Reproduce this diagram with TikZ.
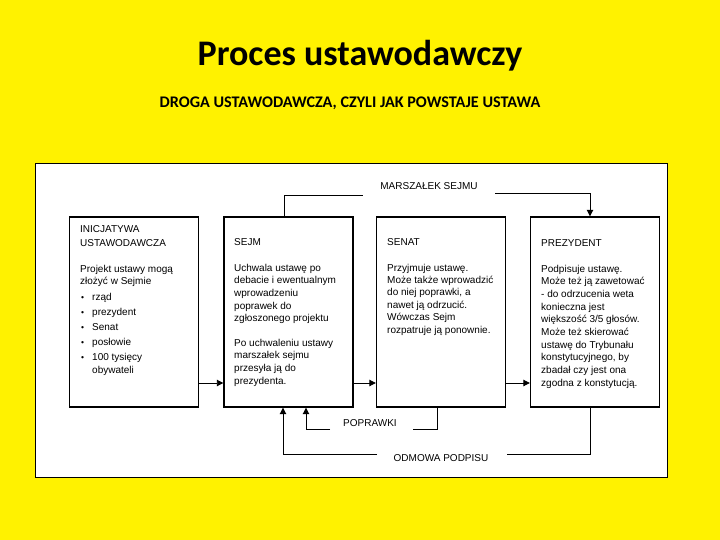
\documentclass[tikz,border=0pt]{standalone}
\usepackage{fontspec}
\setmainfont{Liberation Sans}
\newfontfamily\calfont{Carlito}
\usetikzlibrary{arrows.meta}
\tikzset{
 stage/.style={draw, line width=1.4pt, minimum width=129pt, minimum height=190pt, inner sep=0pt},
 conn/.style={line width=0.9pt},
 arr/.style={conn, -{Triangle[length=6.5pt,width=6.5pt]}},
 txt/.style={anchor=base west, inner sep=0pt, font=\fontsize{10}{12.7}\selectfont},
 lbl/.style={inner sep=0pt, font=\fontsize{10}{12}\selectfont},
}
\newcommand\bt[1]{\parbox[t]{135pt}{\raggedright #1}}
\newcommand\bu{\makebox[11pt][l]{\raisebox{-0.3pt}{\scalebox{0.85}{\textbullet}}}}
\begin{document}
\begin{tikzpicture}[x=1pt,y=-1pt]
\fill[yellow] (0,0) rectangle (720,540);
\useasboundingbox (0,0) rectangle (720,540);
\node[font=\calfont\bfseries\fontsize{36}{40}\selectfont] (title) at (360,56) {Proces ustawodawczy};
\node[font=\calfont\bfseries\fontsize{16.2}{18}\selectfont] (sub) at (350,103) {DROGA USTAWODAWCZA, CZYLI JAK POWSTAJE USTAWA};
\node[draw, fill=white, line width=0.8pt, minimum width=632pt, minimum height=314pt, inner sep=0pt] (panel) at (351,320) {};
\node[stage] (b1) at (134,312) {};
\node[stage] (b2) at (288.5,312) {};
\node[stage] (b3) at (441,312) {};
\node[stage] (b4) at (595,312) {};
% box 1
\node[txt] (t1a) at (80,233) {\bt{\baselineskip=14pt INICJATYWA\\USTAWODAWCZA}};
\node[txt] (t1b) at (80,272) {\bt{Projekt ustawy mogą\\złożyć w Sejmie}};
\node[txt] (t1c) at (81,300) {\bt{\baselineskip=15pt \bu rząd\\\bu prezydent\\\bu Senat\\\bu posłowie\\\bu 100 tysięcy\\[-2pt]\hspace*{11pt}obywateli}};
% box 2
\node[txt] (t2a) at (234,245) {SEJM};
\node[txt] (t2b) at (234,271) {\bt{Uchwala ustawę po\\debacie i ewentualnym\\wprowadzeniu\\poprawek do\\zgłoszonego projektu}};
\node[txt] (t2c) at (234,346) {\bt{Po uchwaleniu ustawy\\marszałek sejmu\\przesyła ją do\\prezydenta.}};
% box 3
\node[txt] (t3a) at (387,245) {SENAT};
\node[txt] (t3b) at (387,271) {\bt{\baselineskip=12.4pt Przyjmuje ustawę.\\Może także wprowadzić\\do niej poprawki, a\\nawet ją odrzucić.\\Wówczas Sejm\\rozpatruje ją ponownie.}};
% box 4
\node[txt] (t4a) at (541,247) {PREZYDENT};
\node[txt] (t4b) at (541,272) {\bt{Podpisuje ustawę.\\Może też ją zawetować\\- do odrzucenia weta\\konieczna jest\\większość 3/5 głosów.\\Może też skierować\\ustawę do Trybunału\\konstytucyjnego, by\\zbadał czy jest ona\\zgodna z konstytucją.}};
% labels
\node[lbl] (marsz) at (429,186) {MARSZAŁEK SEJMU};
\node[lbl] (popr) at (370,423) {POPRAWKI};
\node[lbl] (odm) at (441,458) {ODMOWA PODPISU};
% connectors
\coordinate (m1) at (363,195);
\coordinate (m2) at (495,193);
\draw[conn] (284,0 |- b2.north) |- (m1);
\draw[arr] (m2) -| (590,0 |- b4.north);
\draw[arr] (b1.east |- 0,383) -- (b2.west |- 0,383);
\draw[arr] (b2.east |- 0,383) -- (b3.west |- 0,383);
\draw[arr] (b3.east |- 0,383) -- (b4.west |- 0,383);
\coordinate (p1) at (413,429);
\coordinate (p2) at (330,429);
\draw[conn] (437,0 |- b3.south) |- (p1);
\draw[arr] (p2) -| (306,0 |- b2.south);
\coordinate (o1) at (507,454);
\coordinate (o2) at (377,454);
\draw[conn] (590,0 |- b4.south) |- (o1);
\draw[arr] (o2) -| (283,0 |- b2.south);
\end{tikzpicture}
\end{document}
